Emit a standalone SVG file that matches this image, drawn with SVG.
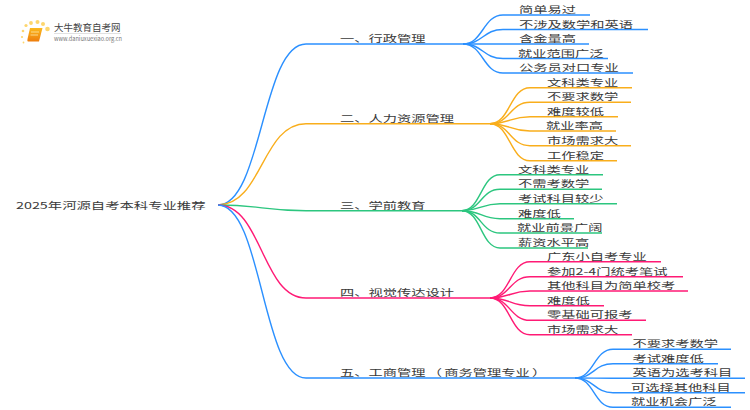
<svg xmlns="http://www.w3.org/2000/svg" width="750" height="410" viewBox="0 0 750 410">
<style>
text{font-family:"Noto Sans CJK SC","Noto Sans",sans-serif;font-size:9.5px;fill:#3a3a3a}
#connectors path{fill:none;stroke-width:1.4}
.b{stroke:#2b90ff}.o{stroke:#f9ae1c}.g{stroke:#2cc67f}.p{stroke:#ff1a75}
.dot{fill:#fdd66e}
</style>
<defs><linearGradient id="bk" x1="0" y1="0" x2="0" y2="1"><stop offset="0" stop-color="#fbb91e"/><stop offset="1" stop-color="#ee7d0c"/></linearGradient></defs>
<rect width="750" height="410" fill="#fff"/>
<g id="logo">
<circle class="dot" cx="23" cy="31" r="1.3"/><circle class="dot" cx="26" cy="25.5" r="1.6"/><circle class="dot" cx="31" cy="23" r="1.9"/><circle class="dot" cx="37.500" cy="22" r="2"/><circle class="dot" cx="43" cy="24" r="2"/><circle class="dot" cx="47.500" cy="29" r="2.300"/><circle class="dot" cx="22" cy="37" r="1.100"/><circle class="dot" cx="23.500" cy="42.500" r="0.900"/>
<path d="M30 28H42.500L39 41.500H28Q27 41.500 27.500 39Z" fill="url(#bk)"/><path d="M31 32H39M30.500 35H38" stroke="#fde9a8" stroke-width="0.8" fill="none"/>
<text x="54" y="31" style="font-size:9.500px;fill:#444">大牛教育自考网</text>
<path d="M54 33.500H121" stroke="#ccc" stroke-width="0.6"/>
<text x="54" y="41" textLength="68" lengthAdjust="spacingAndGlyphs" style="font-size:6px;fill:#777">www.daniuxuexiao.org.cn</text>
</g>
<g id="connectors">
<path class="b" d="M218 205C262 205 262 44 306 44H463"/>
<path class="o" d="M218 205C262 205 262 123.700 306 123.700H490"/>
<path class="g" d="M218 205C262 205 262 210.700 306 210.700H462"/>
<path class="p" d="M218 205C262 205 262 298 306 298H490"/>
<path class="b" d="M218 205C262 205 262 378 306 378H575"/>
<path class="b" d="M463 44C483 44 483 15 503 15H590"/><path class="b" d="M463 44C483 44 483 29.500 503 29.500H648"/><path class="b" d="M463 44C483 44 483 44 503 44H589"/><path class="b" d="M463 44C483 44 483 58.500 503 58.500H608"/><path class="b" d="M463 44C483 44 483 73 503 73H633"/>
<path class="o" d="M490 123.700C510 123.700 510 87.700 530 87.700H632"/><path class="o" d="M490 123.700C510 123.700 510 102.300 530 102.300H631"/><path class="o" d="M490 123.700C510 123.700 510 116.700 530 116.700H618"/><path class="o" d="M490 123.700C510 123.700 510 131 530 131H616"/><path class="o" d="M490 123.700C510 123.700 510 145.700 530 145.700H631"/><path class="o" d="M490 123.700C510 123.700 510 160.700 530 160.700H617"/>
<path class="g" d="M462 210.700C481 210.700 481 174.700 500 174.700H603"/><path class="g" d="M462 210.700C481 210.700 481 189.300 500 189.300H602"/><path class="g" d="M462 210.700C481 210.700 481 203.700 500 203.700H617"/><path class="g" d="M462 210.700C481 210.700 481 218.700 500 218.700H574"/><path class="g" d="M462 210.700C481 210.700 481 233 500 233H602"/><path class="g" d="M462 210.700C481 210.700 481 248 500 248H588"/>
<path class="p" d="M490 298C510 298 510 261.700 530 261.700H661"/><path class="p" d="M490 298C510 298 510 276.700 530 276.700H683"/><path class="p" d="M490 298C510 298 510 291 530 291H688"/><path class="p" d="M490 298C510 298 510 305.700 530 305.700H604"/><path class="p" d="M490 298C510 298 510 320.300 530 320.300H646"/><path class="p" d="M490 298C510 298 510 334.700 530 334.700H632"/>
<path class="b" d="M575 378C594 378 594 349.300 613 349.300H731"/><path class="b" d="M575 378C594 378 594 363.700 613 363.700H718"/><path class="b" d="M575 378C594 378 594 378.300 613 378.300H745"/><path class="b" d="M575 378C594 378 594 392.700 613 392.700H745"/><path class="b" d="M575 378C594 378 594 407.300 613 407.300H731"/>
</g>
<g id="root"><text transform="matrix(1.51 0 0 1 16 209)">2025年河源自考本科专业推荐</text></g>
<g id="n1"><text transform="matrix(1.5 0 0 1 340 42)">一、行政管理</text></g>
<g id="n1-1"><text transform="matrix(1.5 0 0 1 519 13)">简单易过</text></g>
<g id="n1-2"><text transform="matrix(1.5 0 0 1 519 27.500)">不涉及数学和英语</text></g>
<g id="n1-3"><text transform="matrix(1.5 0 0 1 519 42)">含金量高</text></g>
<g id="n1-4"><text transform="matrix(1.5 0 0 1 518 56.500)">就业范围广泛</text></g>
<g id="n1-5"><text transform="matrix(1.5 0 0 1 519 71)">公务员对口专业</text></g>
<g id="n2"><text transform="matrix(1.5 0 0 1 340 122)">二、人力资源管理</text></g>
<g id="n2-1"><text transform="matrix(1.5 0 0 1 547 85.700)">文科类专业</text></g>
<g id="n2-2"><text transform="matrix(1.5 0 0 1 547 100.300)">不要求数学</text></g>
<g id="n2-3"><text transform="matrix(1.5 0 0 1 547 114.700)">难度较低</text></g>
<g id="n2-4"><text transform="matrix(1.5 0 0 1 546 129)">就业率高</text></g>
<g id="n2-5"><text transform="matrix(1.5 0 0 1 547 143.700)">市场需求大</text></g>
<g id="n2-6"><text transform="matrix(1.5 0 0 1 547 158.700)">工作稳定</text></g>
<g id="n3"><text transform="matrix(1.5 0 0 1 340 209)">三、学前教育</text></g>
<g id="n3-1"><text transform="matrix(1.5 0 0 1 518 172.700)">文科类专业</text></g>
<g id="n3-2"><text transform="matrix(1.5 0 0 1 518 187.300)">不需考数学</text></g>
<g id="n3-3"><text transform="matrix(1.5 0 0 1 518 201.700)">考试科目较少</text></g>
<g id="n3-4"><text transform="matrix(1.5 0 0 1 518 216.700)">难度低</text></g>
<g id="n3-5"><text transform="matrix(1.5 0 0 1 517 231)">就业前景广阔</text></g>
<g id="n3-6"><text transform="matrix(1.5 0 0 1 518 246)">薪资水平高</text></g>
<g id="n4"><text transform="matrix(1.5 0 0 1 340 296)">四、视觉传达设计</text></g>
<g id="n4-1"><text transform="matrix(1.5 0 0 1 547 259.700)">广东小自考专业</text></g>
<g id="n4-2"><text transform="matrix(1.5 0 0 1 547 274.700)">参加2-4门统考笔试</text></g>
<g id="n4-3"><text transform="matrix(1.5 0 0 1 547 289)">其他科目为简单校考</text></g>
<g id="n4-4"><text transform="matrix(1.5 0 0 1 547 303.700)">难度低</text></g>
<g id="n4-5"><text transform="matrix(1.5 0 0 1 547 318.300)">零基础可报考</text></g>
<g id="n4-6"><text transform="matrix(1.5 0 0 1 547 332.700)">市场需求大</text></g>
<g id="n5"><text transform="matrix(1.5 0 0 1 340 376)">五、工商管理<tspan dx="1.5">（</tspan><tspan dx="1.5">商务管理专业</tspan><tspan dx="1.5">）</tspan></text></g>
<g id="n5-1"><text transform="matrix(1.5 0 0 1 632.500 347.300)">不要求考数学</text></g>
<g id="n5-2"><text transform="matrix(1.5 0 0 1 632.500 361.700)">考试难度低</text></g>
<g id="n5-3"><text transform="matrix(1.5 0 0 1 632.500 376.300)">英语为选考科目</text></g>
<g id="n5-4"><text transform="matrix(1.5 0 0 1 631 390.700)">可选择其他科目</text></g>
<g id="n5-5"><text transform="matrix(1.5 0 0 1 631 405.300)">就业机会广泛</text></g>
</svg>
